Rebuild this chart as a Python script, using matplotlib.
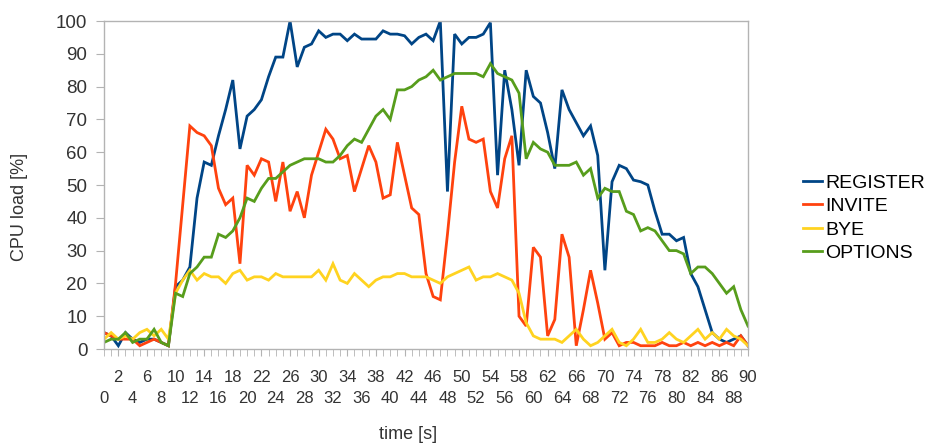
import numpy as np
import matplotlib
matplotlib.use("Agg")
import matplotlib.pyplot as plt

plt.rcParams['font.family'] = ['Liberation Sans', 'DejaVu Sans']

time_s = np.arange(0, 91)

register = [5, 4, 1, 5, 3, 2, 3, 3, 2, 1,
            19, 21, 25, 46, 57, 56, 65, 73, 82, 61,
            71, 73, 76, 83, 89, 89, 100, 86, 92, 93,
            97, 95, 96, 96, 94, 96, 94.5, 94.5, 94.5, 97,
            96, 96, 95.5, 93, 95, 96, 94, 100, 48, 96,
            93, 95, 95, 96, 99.5, 53, 85, 73, 56, 85,
            77, 75, 66, 55, 79, 73, 69, 65, 68, 59,
            24, 51, 56, 55, 51.5, 51, 50, 42, 35, 35,
            33, 34, 23, 19, 12, 5, 3, 2, 3, 4, 1]

invite = [5, 4, 3, 3, 3, 1, 2, 3, 2, 1,
          20, 44, 68, 66, 65, 62, 49, 44, 46, 26,
          56, 53, 58, 57, 45, 57, 42, 48, 40, 53,
          60, 67, 64, 58, 59, 48, 55, 62, 57, 46,
          47, 63, 53, 43, 41, 23, 16, 15, 35, 57,
          74, 64, 63, 64, 48, 43, 58, 65, 10, 7,
          31, 28, 4, 9, 35, 28, 1, 12, 24, 14,
          3, 5, 1, 2, 2, 1, 1, 1, 2, 1,
          1, 2, 1, 2, 1, 2, 1, 2, 1, 4, 1]

bye = [3, 5, 3, 4, 3, 5, 6, 4, 6, 3,
       17, 21, 24, 21, 23, 22, 22, 20, 23, 24,
       21, 22, 22, 21, 23, 22, 22, 22, 22, 22,
       24, 21, 26, 21, 20, 23, 21, 19, 21, 22,
       22, 23, 23, 22, 22, 22, 21, 20, 22, 23,
       24, 25, 21, 22, 22, 23, 22, 21, 17, 8,
       4, 3, 3, 3, 2, 4, 6, 3, 1, 2,
       4, 6, 2, 1, 3, 6, 2, 2, 3, 5,
       3, 2, 4, 6, 3, 5, 3, 6, 4, 3, 1]

options = [2, 3, 3, 5, 2, 3, 3, 6, 2, 1,
           17, 16, 23, 25, 28, 28, 35, 34, 36, 40,
           46, 45, 49, 52, 52, 54, 56, 57, 58, 58,
           58, 57, 57, 59, 62, 64, 63, 67, 71, 73,
           70, 79, 79, 80, 82, 83, 85, 82, 83, 84,
           84, 84, 84, 83, 87, 84, 83, 82, 78, 58,
           63, 61, 60, 56, 56, 56, 57, 53, 55, 46,
           49, 48, 48, 42, 41, 36, 37, 36, 33, 30,
           30, 29, 23, 25, 25, 23, 20, 17, 19, 12, 7]

series = [("REGISTER", register, "#004586"),
          ("INVITE", invite, "#ff420e"),
          ("BYE", bye, "#ffd320"),
          ("OPTIONS", options, "#579d1c")]

fig = plt.figure(figsize=(9.37, 4.45), dpi=100)
ax = fig.add_axes([104 / 937, 96 / 445, 644 / 937, 328 / 445])

for name, vals, col in series:
    ax.plot(time_s, vals, color=col, lw=2.0, label=name, solid_joinstyle='miter')

ax.set_xlim(0, 90)
ax.set_ylim(0, 100)

grey = "#b3b3b3"
txt = '#333333'

# staggered x labels: 2, 6, 10 ... on the first row, 0, 4, 8 ... on the second
ax.set_xticks(np.arange(2, 91, 4))
ax.set_xticks(np.arange(0, 91, 1), minor=True)
ax.set_yticks(np.arange(0, 101, 10))

sec = ax.secondary_xaxis('bottom')
sec.set_xticks(np.arange(0, 91, 4))
sec.spines['bottom'].set_visible(False)
sec.tick_params(length=0, labelsize=12, labelcolor=txt, pad=30)

for s in ax.spines.values():
    s.set_color(grey)
    s.set_linewidth(1.0)

ax.tick_params(axis='x', which='both', direction='out', length=5, color=grey,
               labelsize=12, labelcolor=txt, pad=10)
ax.tick_params(axis='y', direction='out', length=6, color=grey,
               labelsize=13.5, labelcolor=txt, pad=6)

ax.set_xlabel("time [s]", fontsize=13, color=txt)
ax.xaxis.set_label_coords(0.472, -0.235)
ax.set_ylabel("CPU load [%]", fontsize=13, color=txt)
ax.yaxis.set_label_coords(-0.118, 0.433)

ax.legend(loc='center left', bbox_to_anchor=(803 / 937, 227 / 445),
          bbox_transform=fig.transFigure, frameon=False, fontsize=14,
          handlelength=1.0, handletextpad=0.15, labelspacing=0.3,
          borderpad=0, borderaxespad=0)

fig.savefig("out.png", dpi=100)
